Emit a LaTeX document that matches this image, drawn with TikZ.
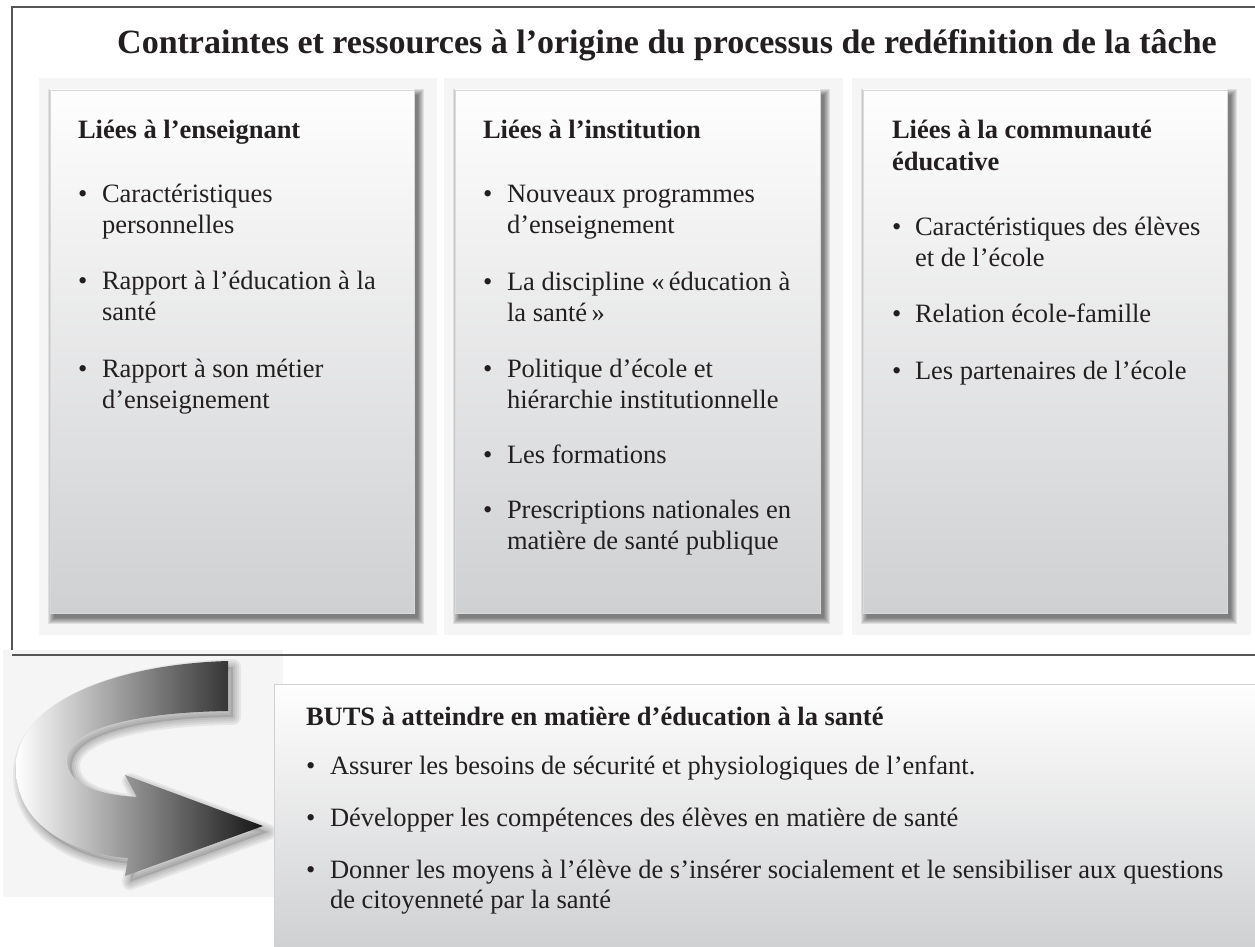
\documentclass[tikz,border=0pt]{standalone}
\usepackage{fontspec}
\setmainfont{Liberation Serif}
\definecolor{txt}{RGB}{35,31,32}
\definecolor{pbg}{RGB}{245,245,245}
\definecolor{ptop}{RGB}{254,254,254}
\definecolor{pbot}{RGB}{207,208,210}
\definecolor{frame}{RGB}{85,85,85}
\tikzset{
  body/.style={anchor=base west, inner sep=0pt, outer sep=0pt, text=txt,
    font=\fontsize{26.5}{31}\selectfont},
  head/.style={body, font=\bfseries\fontsize{26.5}{31}\selectfont},
  bul/.style={body},
  panelfill/.style={top color=ptop, bottom color=pbot, draw=black!15, line width=0.6pt},
}
\newcommand\myPanel[4]{% bgx1 bgx2 x1 x2
  \fill[pbg] (#1,78) rectangle (#2,635);
  \foreach \k in {0,...,6}{
    \fill[black,opacity=0.085] (#3+4-6+\k,90+5-6+\k) rectangle (#4+4+6-\k,613+5+6-\k);
  }
  \shade[panelfill] (#3,90) rectangle (#4,613);
}
\newcommand\myArrowPath{(228,661) .. controls (120,664) and (16,700) .. (16,768)
  .. controls (16,830) and (80,855) .. (128,858) -- (125,876) -- (263,826)
  -- (125,775) -- (137,797) .. controls (100,795) and (67,785) .. (67,760)
  .. controls (67,725) and (150,712) .. (228,711) -- cycle}
\begin{document}
\begin{tikzpicture}[x=1pt,y=-1pt]
\useasboundingbox (0,0) rectangle (1255,947);
\fill[white] (0,0) rectangle (1255,947);

% outer frame
\draw[frame, line width=1.3pt] (1256,7) -- (12,7) -- (12,655) -- (1256,655);

% title
\node[anchor=base, inner sep=0pt, text=txt, font=\bfseries\fontsize{34}{40}\selectfont]
  (title) at (667,54) {Contraintes et ressources à l’origine du processus de redéfinition de la tâche};

% panels
\myPanel{39}{437}{50}{414}
\myPanel{444}{843}{455}{820}
\myPanel{852}{1251}{863}{1227}

% left panel
\node[head] (h1) at (78,139) {Liées à l’enseignant};
\node[bul] (b11) at (78,202) {•};
\node[body] (t11a) at (102,202) {Caractéristiques};
\node[body] (t11b) at (102,233) {personnelles};
\node[bul] (b12) at (78,289) {•};
\node[body] (t12a) at (102,289) {Rapport à l’éducation à la};
\node[body] (t12b) at (102,320) {santé};
\node[bul] (b13) at (78,377) {•};
\node[body] (t13a) at (102,377) {Rapport à son métier};
\node[body] (t13b) at (102,408) {d’enseignement};

% middle panel
\node[head] (h2) at (483,139) {Liées à l’institution};
\node[bul] (b21) at (483,202) {•};
\node[body] (t21a) at (507,202) {Nouveaux programmes};
\node[body] (t21b) at (507,233) {d’enseignement};
\node[bul] (b22) at (483,290) {•};
\node[body] (t22a) at (507,290) {La discipline «\,éducation à};
\node[body] (t22b) at (507,321) {la santé\,»};
\node[bul] (b23) at (483,377) {•};
\node[body] (t23a) at (507,377) {Politique d’école et};
\node[body] (t23b) at (507,408) {hiérarchie institutionnelle};
\node[bul] (b24) at (483,463) {•};
\node[body] (t24) at (507,463) {Les formations};
\node[bul] (b25) at (483,518) {•};
\node[body] (t25a) at (507,518) {Prescriptions nationales en};
\node[body] (t25b) at (507,549) {matière de santé publique};

% right panel
\node[head] (h3a) at (892,139) {Liées à la communauté};
\node[head] (h3b) at (892,170) {éducative};
\node[bul] (b31) at (892,235) {•};
\node[body] (t31a) at (915,235) {Caractéristiques des élèves};
\node[body] (t31b) at (915,266) {et de l’école};
\node[bul] (b32) at (892,322) {•};
\node[body] (t32) at (915,322) {Relation école-famille};
\node[bul] (b33) at (892,379) {•};
\node[body] (t33) at (915,379) {Les partenaires de l’école};

% arrow area
\fill[pbg] (3,650) rectangle (283,897);
\draw[frame, line width=1.3pt] (12,655) -- (283,655);
\foreach \w in {16,12,8,4}{
  \draw[black, opacity=0.06, line width=\w pt, line join=round, shift={(5,6)}] \myArrowPath;
}
\fill[black, opacity=0.12, shift={(5,6)}] \myArrowPath;
\shade[left color=white, middle color=black!62, right color=black!92] \myArrowPath;

% bottom box
\shade[top color=ptop, bottom color=pbot, draw=black!18, line width=1pt] (274,684) rectangle (1258,950);
\node[head] (hb) at (306,725) {BUTS à atteindre en matière d’éducation à la santé};
\node[bul] (bb1) at (306,774) {•};
\node[body] (tb1) at (330,774) {Assurer les besoins de sécurité et physiologiques de l’enfant.};
\node[bul] (bb2) at (306,826) {•};
\node[body] (tb2) at (330,826) {Développer les compétences des élèves en matière de santé};
\node[bul] (bb3) at (306,878) {•};
\node[body] (tb3a) at (330,878) {Donner les moyens à l’élève de s’insérer socialement et le sensibiliser aux questions};
\node[body] (tb3b) at (330,908) {de citoyenneté par la santé};
\end{tikzpicture}
\end{document}
